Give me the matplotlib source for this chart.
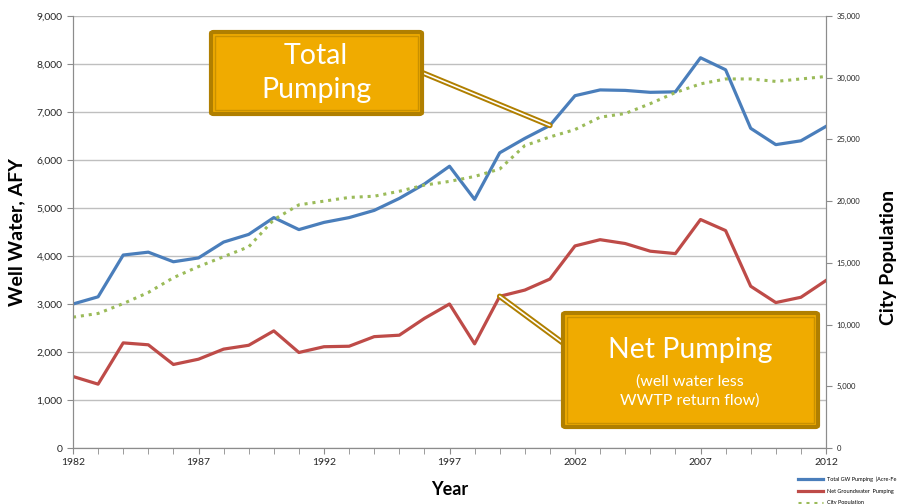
import matplotlib
matplotlib.use('Agg')
import matplotlib.pyplot as plt
from matplotlib.patches import FancyBboxPatch, Rectangle, ConnectionPatch
from matplotlib.ticker import FuncFormatter, MultipleLocator

plt.rcParams['font.family'] = ['Lato', 'DejaVu Sans']

years = list(range(1982, 2013))
total_gw = [3000, 3150, 4020, 4080, 3880, 3960, 4290, 4450, 4800, 4550,
            4700, 4800, 4950, 5200, 5500, 5870, 5180, 6150, 6450, 6720,
            7340, 7460, 7450, 7410, 7420, 8130, 7880, 6660, 6320, 6400, 6700]
net_gw = [1490, 1330, 2190, 2150, 1740, 1850, 2060, 2140, 2440, 1990,
          2110, 2120, 2320, 2350, 2700, 3000, 2170, 3160, 3290, 3520,
          4210, 4340, 4260, 4100, 4050, 4760, 4530, 3370, 3030, 3140, 3490]
population = [10600, 10900, 11700, 12600, 13800, 14700, 15500, 16300, 18500, 19700,
              20000, 20300, 20400, 20800, 21300, 21600, 22000, 22600, 24500, 25200,
              25800, 26800, 27100, 27900, 28800, 29500, 29900, 29900, 29700, 29900, 30100]

# legend text as it shows (the first one is cut short in the source)
labels = ['Total GW Pumping  (Acre-Fe', 'Net Groundwater  Pumping', 'City Population']

blue = '#4A7EBB'
red = '#BE4B48'
green = '#9BBB59'
gold = '#F0AB00'
gold_dark = '#B07F00'

fig = plt.figure(figsize=(8.97, 5.04), dpi=100)
ax = fig.add_axes([73/897, 56/504, 753/897, 432/504])
ax2 = ax.twinx()

l1, = ax.plot(years, total_gw, color=blue, lw=2.3, zorder=3)
l2, = ax.plot(years, net_gw, color=red, lw=2.3, zorder=3)
l3, = ax2.plot(years, population, color=green, lw=2.2, linestyle=(0, (1, 1.6)))

ax.set_xlim(1982, 2012)
ax.set_ylim(0, 9000)
ax2.set_ylim(0, 35000)
ax.set_yticks(range(0, 9001, 1000))
ax2.set_yticks(range(0, 35001, 5000))
ax.set_xticks(range(1982, 2013, 5))
ax.xaxis.set_minor_locator(MultipleLocator(1))
fmt = FuncFormatter(lambda v, p: f'{int(v):,}')
ax.yaxis.set_major_formatter(fmt)
ax2.yaxis.set_major_formatter(fmt)

ax.grid(axis='y', color='#BFBFBF', lw=1)
ax.set_axisbelow(True)
for a in (ax, ax2):
    a.spines['top'].set_visible(False)
    for s in ('left', 'right', 'bottom'):
        a.spines[s].set_color('#8C8C8C')
ax.tick_params(axis='y', colors='#8C8C8C', labelcolor='#262626', labelsize=7.5, length=4)
ax.tick_params(axis='x', which='both', colors='#8C8C8C', labelcolor='#262626', labelsize=7.5, length=4)
ax2.tick_params(axis='y', colors='#8C8C8C', labelcolor='#262626', labelsize=5.5, length=4)

ax.set_xlabel('Year', fontsize=13, fontweight='bold', labelpad=10)
ax.set_ylabel('Well Water, AFY', fontsize=14, fontweight='bold', labelpad=8)
ax2.set_ylabel('City Population', fontsize=14, fontweight='bold')
ax2.yaxis.set_label_coords(1.072, 0.44)

fig.legend([l1, l2, l3], labels, loc='upper left', bbox_to_anchor=(0.885, 0.062),
           fontsize=4, frameon=False, handlelength=4.5, labelspacing=1.2,
           borderpad=0.2)


def callout(x0, y0, x1, y1, target):
    W, H = 897, 504
    # connector drawn as a double line
    tx, ty = target[0], target[1]
    sx, sy = target[2]
    for lw, c in ((4.0, gold_dark), (1.2, 'white')):
        cp = ConnectionPatch(xyA=(tx, ty), coordsA=ax.transData,
                             xyB=(sx / W, 1 - sy / H), coordsB=fig.transFigure,
                             color=c, lw=lw, zorder=5)
        fig.add_artist(cp)
    box = FancyBboxPatch((x0 / W, 1 - y1 / H), (x1 - x0) / W, (y1 - y0) / H,
                         boxstyle='round,pad=0,rounding_size=0.003',
                         transform=fig.transFigure, facecolor=gold,
                         edgecolor=gold_dark, lw=3, zorder=6)
    fig.add_artist(box)
    inner = Rectangle(((x0 + 4) / W, 1 - (y1 - 4) / H), (x1 - x0 - 8) / W, (y1 - y0 - 8) / H,
                      transform=fig.transFigure, facecolor='none',
                      edgecolor='#C99100', lw=1, zorder=7)
    fig.add_artist(inner)


callout(211, 32, 422, 114, (2001, 6720, (423, 73)))
fig.text(316 / 897, 1 - 73 / 504, 'Total\nPumping', color='white', fontsize=20.5,
         ha='center', va='center', linespacing=1.35, zorder=8)

callout(563, 313, 818, 427, (1999, 3160, (563, 343)))
fig.text(690 / 897, 1 - 350 / 504, 'Net Pumping', color='white', fontsize=20.5,
         ha='center', va='center', zorder=8)
fig.text(690 / 897, 1 - 391 / 504, '(well water less\nWWTP return flow)', color='white',
         fontsize=11.5, ha='center', va='center', linespacing=1.35, zorder=8)

fig.savefig('out.png', dpi=100)
